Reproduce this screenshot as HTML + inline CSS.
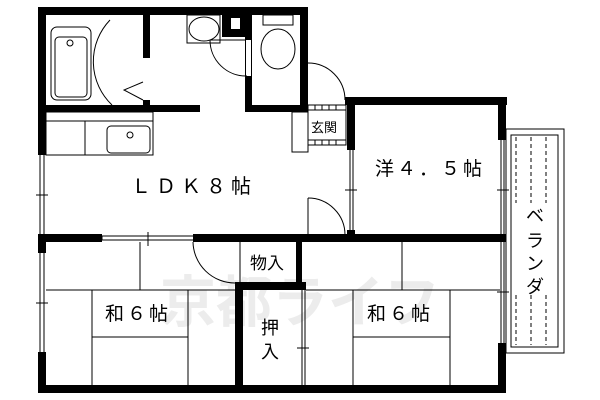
<!DOCTYPE html>
<html><head><meta charset="utf-8"><style>
html,body{margin:0;padding:0;background:#fff;width:600px;height:400px;overflow:hidden}
text{font-family:"Liberation Sans","Noto Sans CJK JP",sans-serif;fill:#000}
</style></head><body>
<svg width="600" height="400" viewBox="0 0 600 400" xmlns="http://www.w3.org/2000/svg">
<text x="160" y="322" font-size="56" font-weight="bold" style="fill:#ececec">京都ライフ</text>
<g fill="none" stroke="#000" stroke-width="1">
<rect x="51" y="27" width="40" height="73" rx="6"/>
<rect x="55" y="37" width="32" height="60" rx="4"/>
<circle cx="70" cy="43" r="3"/>
<path d="M110 20 A60 60 0 0 0 112 105"/>
<path d="M143 82 L124 90 L143 100"/>
<rect x="46" y="112" width="107" height="43"/>
<line x1="85" y1="121" x2="85" y2="155"/>
<line x1="46" y1="121" x2="153" y2="121"/>
<rect x="107" y="126" width="43" height="27" rx="4"/>
<circle cx="130" cy="135" r="3"/>
<rect x="187" y="15" width="33" height="28"/>
<ellipse cx="204" cy="29" rx="15" ry="12"/>
<path d="M210 40 A36 36 0 0 0 247 76"/>
<line x1="210" y1="40" x2="245" y2="40"/>
<rect x="263" y="15" width="30" height="10"/>
<ellipse cx="278" cy="49" rx="17" ry="20"/>
<path d="M308 63 A37 37 0 0 1 345 100"/>
<rect x="292" y="112" width="16" height="40"/>
<rect x="308" y="105" width="38" height="40"/>
<line x1="308" y1="110" x2="346" y2="110"/>
<line x1="308" y1="140" x2="346" y2="140"/>
<path d="M315 105v5M322 105v5M329 105v5M336 105v5M315 140v5M322 140v5M329 140v5M336 140v5"/>
<path d="M308 198 A37 37 0 0 1 345 235"/>
<line x1="308" y1="198" x2="308" y2="235"/>
<path d="M193 242 A42 42 0 0 0 235 283"/>
<path d="M40 155v80M44 155v80M36 195h12"/>
<path d="M40 253v100M44 253v100M36 303h12"/>
<path d="M102 236v4M102 240h91M102 236h91M148 232v14"/>
<path d="M350 150v80M353 150v80M345 190h12"/>
<path d="M501 140v203M504 140v203M497 190h12M497 292h12"/>
<path d="M302 290v95M305 290v95M297 348h12"/>
<path d="M240 242v40"/>
<path d="M46 290h189M140 242v48M92 290v95M188 290v95M92 337h96"/>
<path d="M306 290h194M402 242v48M353 290v95M450 290v95M353 337h97"/>
<rect x="506" y="129" width="58" height="224"/>
<rect x="511" y="135" width="47" height="212"/>
<g stroke-dasharray="4 3"><path d="M516 137v66M531 137v66M546 137v66M516 295v50M531 295v50M546 295v50"/></g>
</g>
<g fill="#000">
<rect x="38" y="7" width="270" height="8"/>
<rect x="38" y="7" width="8" height="148"/>
<rect x="143" y="15" width="7" height="43"/>
<rect x="143" y="100" width="7" height="12"/>
<rect x="38" y="105" width="162" height="7"/>
<rect x="222" y="15" width="23" height="22"/>
<rect x="245" y="15" width="7" height="25"/>
<rect x="245" y="76" width="7" height="36"/>
<rect x="245" y="105" width="63" height="7"/>
<rect x="300" y="7" width="8" height="105"/>
<rect x="345" y="97" width="162" height="8"/>
<rect x="347" y="97" width="8" height="53"/>
<rect x="347" y="230" width="8" height="12"/>
<rect x="498" y="97" width="8" height="43"/>
<rect x="498" y="343" width="8" height="50"/>
<rect x="38" y="234" width="64" height="8"/>
<rect x="193" y="234" width="42" height="8"/>
<rect x="235" y="234" width="271" height="8"/>
<rect x="38" y="234" width="8" height="19"/>
<rect x="38" y="352" width="8" height="41"/>
<rect x="38" y="385" width="468" height="8"/>
<rect x="235" y="282" width="71" height="8"/>
<rect x="235" y="282" width="8" height="111"/>
<rect x="296" y="242" width="6" height="40"/>
</g>
<path d="M245.5 40v36M251.5 40v36" stroke="#000" fill="none"/>
<rect x="231" y="18" width="9" height="11" fill="#fff"/>
<text x="131" y="193" font-size="20" letter-spacing="5">ＬＤＫ８帖</text>
<text x="375" y="175" font-size="19" letter-spacing="3">洋４．５帖</text>
<text x="105" y="320" font-size="19" letter-spacing="3">和６帖</text>
<text x="367" y="320" font-size="19" letter-spacing="3">和６帖</text>
<text x="250" y="269" font-size="17">物入</text>
<text x="261" y="334" font-size="18">押</text>
<text x="261" y="358" font-size="18">入</text>
<text x="311" y="132" font-size="13">玄関</text>
<text x="526" y="222" font-size="18">ベ</text>
<text x="526" y="247" font-size="18">ラ</text>
<text x="526" y="270" font-size="18">ン</text>
<text x="526" y="293" font-size="18">ダ</text>
</svg>
</body></html>
